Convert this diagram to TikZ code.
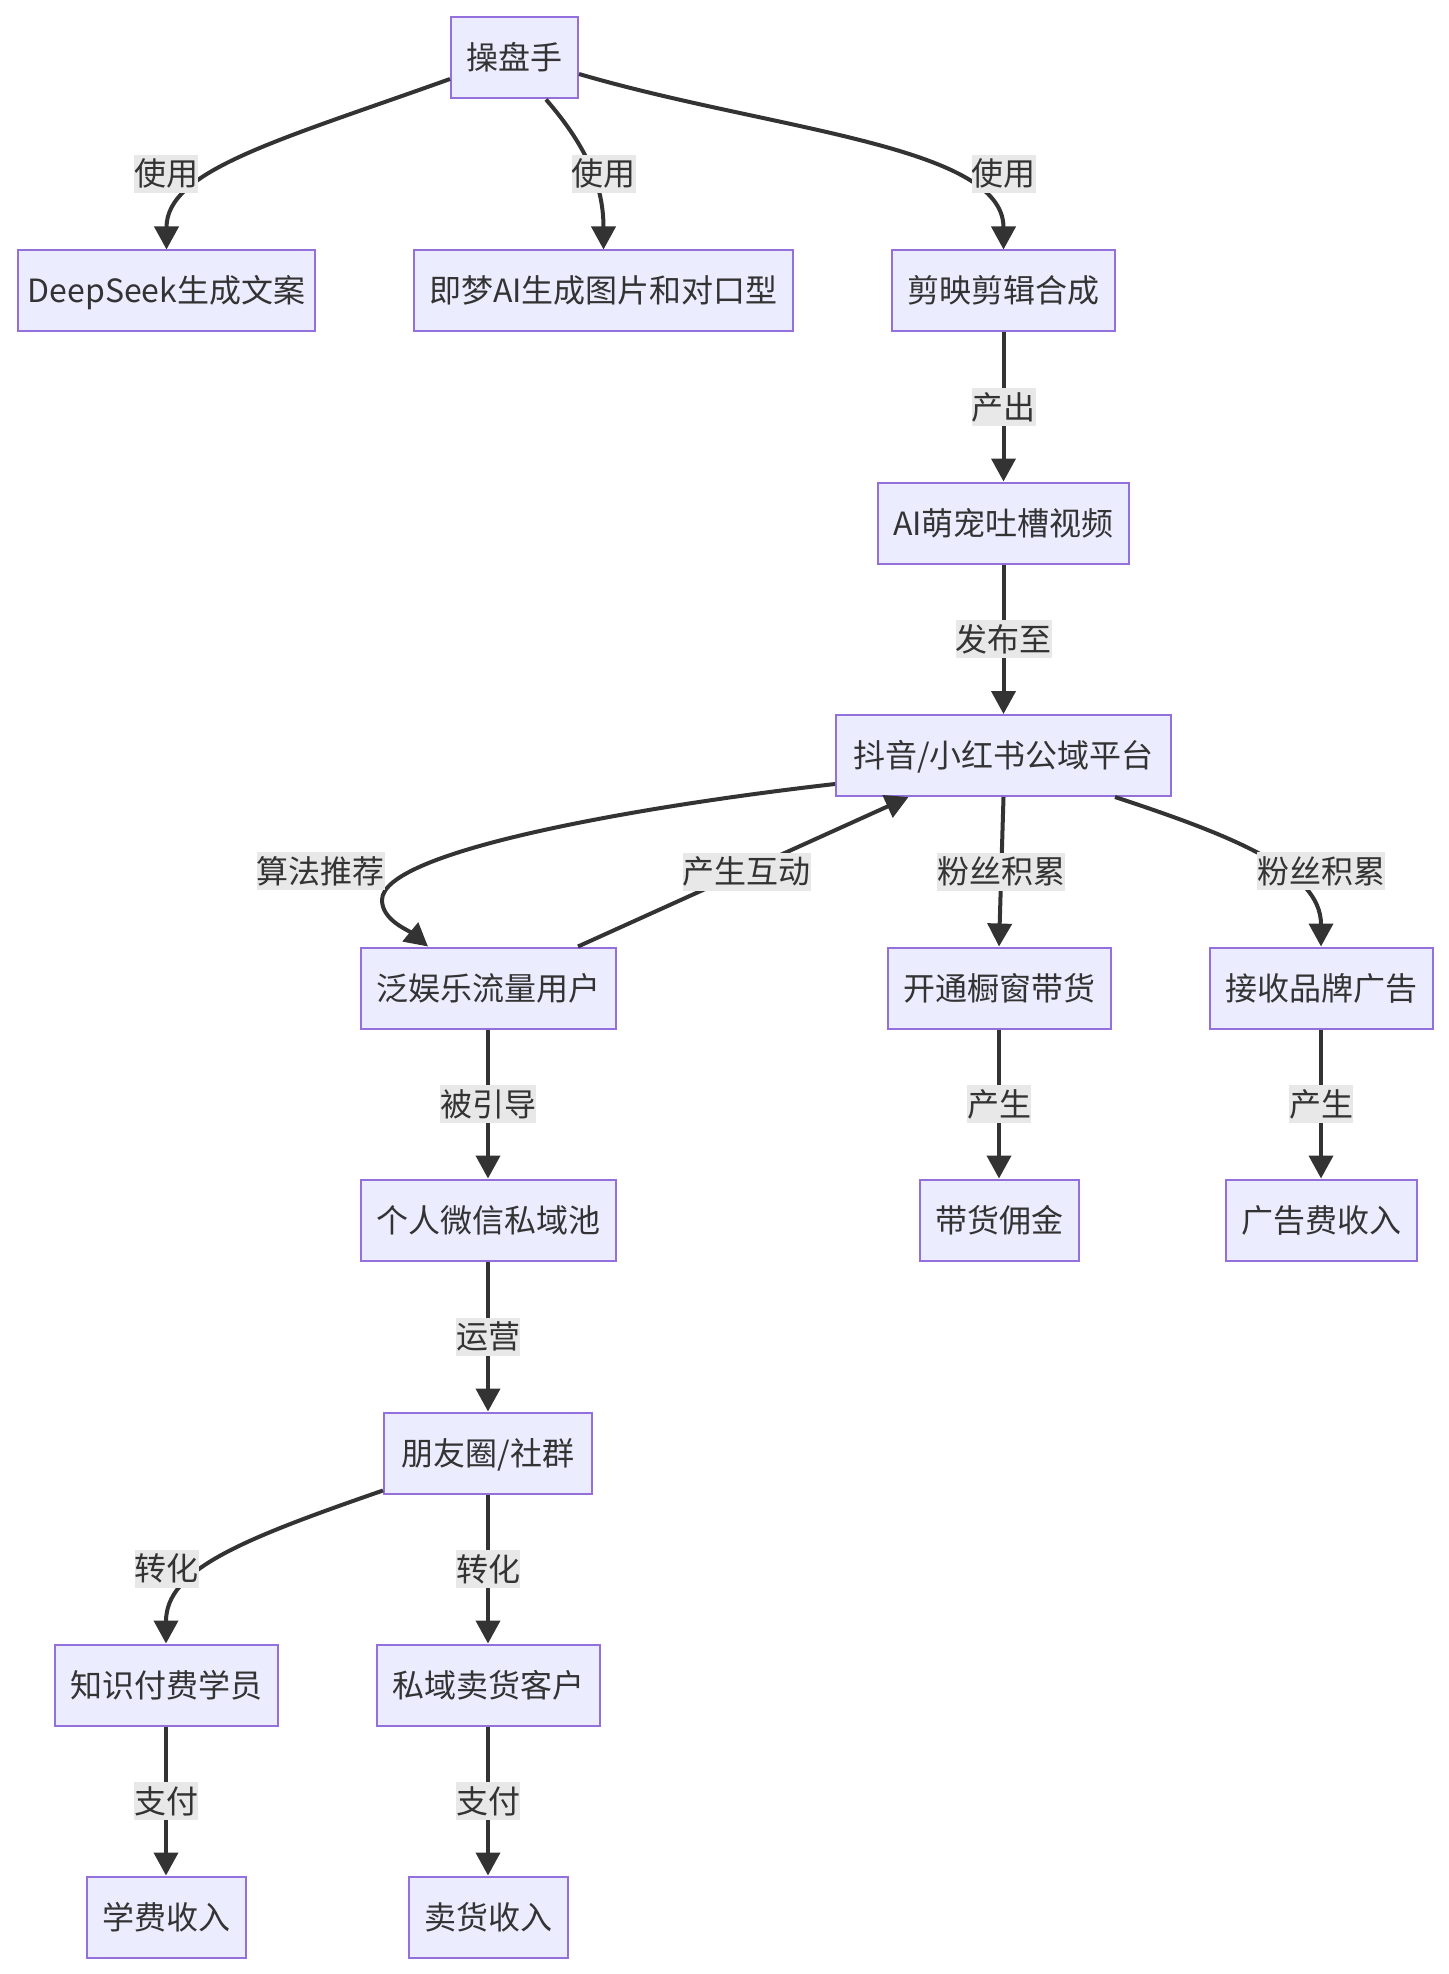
\documentclass[tikz,border=0pt]{standalone}
\usepackage{fontspec}
\setmainfont{Noto Sans CJK SC}
\usetikzlibrary{arrows.meta}
\definecolor{nodefill}{HTML}{ECECFF}
\definecolor{nodeline}{HTML}{9370DB}
\definecolor{edgecol}{HTML}{333333}
\definecolor{lblbg}{HTML}{E8E8E8}
\definecolor{txtcol}{HTML}{333333}
\begin{document}
\begin{tikzpicture}[x=0.5pt,y=-0.5pt,
  box/.style={draw=nodeline, fill=nodefill, line width=1pt, text=txtcol,
    font=\fontsize{16pt}{19pt}\selectfont, inner xsep=7.75pt, inner ysep=0pt,
    minimum height=40.5pt, text height=14pt, text depth=2pt},
  lbl/.style={fill=lblbg, text=txtcol, font=\fontsize{16pt}{19pt}\selectfont,
    inner sep=0pt, text height=15.5pt, text depth=3.5pt},
  edge/.style={draw=edgecol, line width=2pt, -{Triangle[length=11.5pt,width=12pt]}}]

\fill[white] (0,0) rectangle (1448,1974);

% nodes
\node[box] (boss) at (514.5,58) {操盘手};
\node[box, inner xsep=4.9pt, minimum width=148.5pt] (ds) at (166.5,291) {DeepSeek生成文案};
\node[box] (jm) at (603.5,291) {即梦AI生成图片和对口型};
\node[box] (jy) at (1003.5,291) {剪映剪辑合成};
\node[box] (ai) at (1003.5,523) {AI萌宠吐槽视频};
\node[box, minimum width=167.5pt] (dy) at (1003.5,755.5) {抖音/小红书公域平台};
\node[box] (fy) at (488,988) {泛娱乐流量用户};
\node[box] (kt) at (999,988) {开通橱窗带货};
\node[box] (js) at (1321,988) {接收品牌广告};
\node[box] (wx) at (488,1220) {个人微信私域池};
\node[box] (dh) at (999,1220) {带货佣金};
\node[box] (gg) at (1321,1220) {广告费收入};
\node[box, minimum width=104pt] (pyq) at (488,1453) {朋友圈/社群};
\node[box] (zs) at (166,1685) {知识付费学员};
\node[box] (sy) at (488,1685) {私域卖货客户};
\node[box] (xf) at (166,1917) {学费收入};
\node[box] (mh) at (488,1917) {卖货收入};

% curved edges
\draw[edge] ([yshift=-10.5pt]boss.west) .. controls (280,140) and (166.5,170) .. (ds.north);
\draw[edge] ([xshift=15.75pt]boss.south) .. controls (590,150) and (603.5,190) .. (jm.north);
\draw[edge] ([yshift=-8pt]boss.east) .. controls (770,130) and (1003.5,145) .. (jy.north);
\draw[edge] ([yshift=-14.25pt]dy.west) .. controls (650,805) and (382,850) .. (382,900)
   .. controls (382,920) and (408,930) .. ([xshift=-30pt]fy.north);
\draw[edge] ([xshift=45pt]fy.north) -- ([xshift=-47.5pt]dy.south);
\draw[edge] ([xshift=55.75pt]dy.south) .. controls (1230,835) and (1321,870) .. (js.north);
\draw[edge] ([yshift=2pt]pyq.south west) .. controls (240,1540) and (166,1570) .. (zs.north);

% straight edges
\draw[edge] (jy) -- node[lbl] (l4) {产出} (ai);
\draw[edge] (ai) -- node[lbl] (l5) {发布至} (dy);
\draw[edge] (dy.south) -- node[lbl] (l8) {粉丝积累} (kt.north);
\draw[edge] (kt) -- node[lbl] (l10) {产生} (dh);
\draw[edge] (js) -- node[lbl] (l11) {产生} (gg);
\draw[edge] (fy) -- node[lbl] (l12) {被引导} (wx);
\draw[edge] (wx) -- node[lbl] (l13) {运营} (pyq);
\draw[edge] (pyq) -- node[lbl] (l15) {转化} (sy);
\draw[edge] (zs) -- node[lbl] (l16) {支付} (xf);
\draw[edge] (sy) -- node[lbl] (l17) {支付} (mh);

% labels of curved edges
\node[lbl] (l1) at (166,174) {使用};
\node[lbl] (l2) at (603.5,174) {使用};
\node[lbl] (l3) at (1003.5,174) {使用};
\node[lbl] (l6) at (320.5,871) {算法推荐};
\node[lbl] (l7) at (746.5,871.5) {产生互动};
\node[lbl] (l9) at (1321,871) {粉丝积累};
\node[lbl] (l14) at (166.5,1568.5) {转化};
\end{tikzpicture}
\end{document}
